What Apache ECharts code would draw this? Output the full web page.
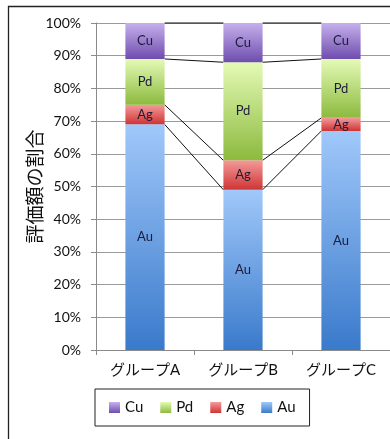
<!DOCTYPE html>
<html>
<head>
<meta charset="utf-8">
<script src="https://cdn.jsdelivr.net/npm/echarts@6/dist/echarts.min.js"></script>
<style>
  html, body { margin: 0; padding: 0; background: #fff; }
  #chart { width: 390px; height: 439px; }
</style>
</head>
<body>
<div id="chart"></div>
<script>
// Share of appraised value per group (percent)
const groups = ['グループA', 'グループB', 'グループC'];
const metals = ['Au', 'Ag', 'Pd', 'Cu'];
const au = [69, 49, 67];
const ag = [6, 9, 4];
const pd = [14, 30, 18];
const cu = [11, 12, 11];
const legendOrder = ['Cu', 'Pd', 'Ag', 'Au'];

const values = { Au: au, Ag: ag, Pd: pd, Cu: cu };
const shades = {
  Au: ['#a0c8fa', '#3a7acb'],
  Ag: ['#f49a9a', '#cf3434'],
  Pd: ['#e4fab6', '#8cba3e'],
  Cu: ['#c6b0ec', '#6e4dae']
};
const BAR_FRACTION = 0.4;
const FONT = 'Lato, "Noto Sans CJK JP", sans-serif';

function grad(c) {
  return new echarts.graphic.LinearGradient(0, 0, 0, 1, [
    { offset: 0, color: c[0] }, { offset: 1, color: c[1] }
  ]);
}

// cumulative tops of each stacked segment, per group
const tops = metals.map((m, k) =>
  groups.map((g, i) => metals.slice(0, k + 1).reduce((s, mm) => s + values[mm][i], 0))
);

const barSeries = metals.map(m => ({
  name: m,
  type: 'bar',
  stack: 'total',
  barWidth: (BAR_FRACTION * 100) + '%',
  data: values[m],
  itemStyle: { color: grad(shades[m]) },
  label: {
    show: true,
    position: 'inside',
    formatter: m,
    color: '#1c1c3a',
    fontSize: 13,
    fontFamily: FONT
  },
  z: 3
}));

// series lines joining the segment tops of neighbouring bars
const connector = {
  type: 'custom',
  name: 'connector',
  silent: true,
  z: 2,
  data: [0, 1],
  renderItem: function (params, api) {
    const i = api.value(0);
    const half = api.size([1, 0])[0] * BAR_FRACTION / 2;
    const children = tops.map(t => {
      const p1 = api.coord([i, t[i]]);
      const p2 = api.coord([i + 1, t[i + 1]]);
      return {
        type: 'line',
        shape: { x1: p1[0] + half, y1: p1[1], x2: p2[0] - half, y2: p2[1] },
        style: { stroke: '#111', lineWidth: 1 }
      };
    });
    return { type: 'group', children: children };
  }
};

const chart = echarts.init(document.getElementById('chart'), null, { renderer: 'canvas' });
chart.setOption({
  animation: false,
  backgroundColor: '#fff',
  graphic: [{
    type: 'rect',
    shape: { x: 8.5, y: 6.5, width: 420, height: 460 },
    style: { fill: 'none', stroke: '#222', lineWidth: 1.3 },
    silent: true,
    z: -10
  }],
  grid: { left: 96, right: -3, top: 23, bottom: 89, containLabel: false },
  legend: {
    data: legendOrder,
    left: 95,
    top: 389,
    orient: 'horizontal',
    icon: 'rect',
    itemWidth: 11,
    itemHeight: 11,
    itemGap: 17,
    padding: [11, 14, 11, 14],
    borderColor: '#222',
    borderWidth: 1,
    textStyle: { fontSize: 15, color: '#111', fontFamily: FONT }
  },
  xAxis: {
    type: 'category',
    data: groups,
    axisLine: { show: true, lineStyle: { color: '#8a8a8a' } },
    axisTick: { show: true, length: 5, lineStyle: { color: '#8a8a8a' } },
    axisLabel: { fontSize: 15, color: '#111', margin: 13, fontFamily: FONT }
  },
  yAxis: {
    type: 'value',
    min: 0,
    max: 100,
    interval: 10,
    name: '評価額の割合',
    nameLocation: 'middle',
    nameGap: 52,
    nameMoveOverlap: false,
    nameTextStyle: { fontSize: 19, color: '#111', fontFamily: '"Noto Sans CJK JP", sans-serif' },
    axisLine: { show: true, lineStyle: { color: '#8a8a8a' } },
    axisTick: { show: true, length: 5, lineStyle: { color: '#8a8a8a' } },
    axisLabel: { formatter: '{value}%', fontSize: 14, color: '#111', margin: 15, fontFamily: FONT },
    splitLine: { show: true, lineStyle: { color: '#9a9a9a', width: 1 } }
  },
  series: barSeries.concat([connector])
});
</script>
</body>
</html>
